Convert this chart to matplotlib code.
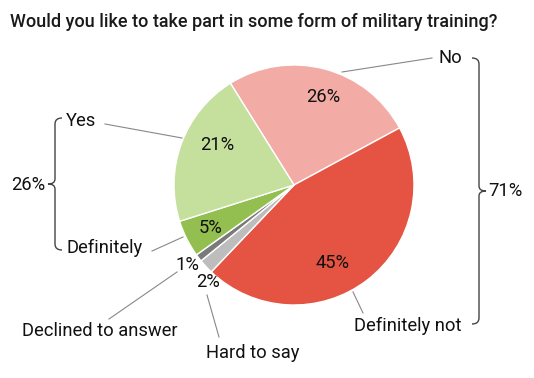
import matplotlib.pyplot as plt
from matplotlib.path import Path
from matplotlib.patches import PathPatch

plt.rcParams['font.family'] = ['Roboto', 'DejaVu Sans']

# -----------------------------
# Data
# -----------------------------
categories = ["No", "Definitely not", "Hard to say", "Declined to answer", "Definitely", "Yes"]
shares = [26, 45, 2, 1, 5, 21]
colors = ["#f2aca5", "#e55443", "#bdbdbd", "#7a7a7a", "#93bf50", "#c5df9d"]
group_labels = ["26%", "71%"]

W, H = 534, 378


def Y(y):
    # image pixel rows -> axes coords (y up)
    return H - y


fig = plt.figure(figsize=(W / 100, H / 100), dpi=100)
ax = fig.add_axes([0, 0, 1, 1])

cx, cy, r = 294, 185, 120
ax.pie(shares, colors=colors, startangle=122, counterclock=False,
       center=(cx, Y(cy)), radius=r, frame=True,
       wedgeprops=dict(edgecolor="white", linewidth=1))
ax.set_xlim(0, W)
ax.set_ylim(0, H)
ax.set_aspect("equal")
ax.axis("off")

fs = 13.2
fig.text(10 / W, 1 - 22 / H, "Would you like to take part in some form of military training?",
         fontsize=13, fontweight="medium", color="#1a1a1a", va="center", ha="left")

# percent labels inside / next to the slices
pct_pos = [(323, 97), (333, 263), (208, 282), (187, 265), (211, 228), (217, 145)]
for v, (px, py) in zip(shares, pct_pos):
    ax.text(px, Y(py), f"{v}%", fontsize=fs, ha="center", va="center", color="#111")

# category labels with leader lines
lab = {
    "No": ((439, 58), [(342, 72), (432, 58)]),
    "Definitely not": ((354, 326), [(353, 292), (363, 313)]),
    "Hard to say": ((206, 353), [(207, 295), (219, 337)]),
    "Declined to answer": ((22, 331), [(109, 319), (177, 272)]),
    "Definitely": ((67, 248), [(152, 251), (183, 237)]),
    "Yes": ((66, 121), [(105, 124), (182, 138)]),
}
for name in categories:
    (tx, ty), line = lab[name]
    ax.text(tx, Y(ty), name, fontsize=fs, ha="left", va="center", color="#111")
    ax.plot([line[0][0], line[1][0]], [Y(line[0][1]), Y(line[1][1])],
            color="#888888", linewidth=0.8)


def brace(x, ytop, ybot, side):
    # side=-1: tip points left, ends curl right; side=+1: mirror
    ymid = (ytop + ybot) / 2
    e = -side * 7
    t = side * 7
    verts = [
        (x + e, Y(ytop)), (x, Y(ytop)), (x, Y(ytop + 6)),
        (x, Y(ymid - 5)),
        (x, Y(ymid)), (x + t, Y(ymid)),
        (x, Y(ymid)), (x, Y(ymid + 5)),
        (x, Y(ybot - 6)),
        (x, Y(ybot)), (x + e, Y(ybot)),
    ]
    codes = [Path.MOVETO, Path.CURVE3, Path.CURVE3, Path.LINETO,
             Path.CURVE3, Path.CURVE3, Path.CURVE3, Path.CURVE3,
             Path.LINETO, Path.CURVE3, Path.CURVE3]
    ax.add_patch(PathPatch(Path(verts, codes), fill=False,
                           edgecolor="#444444", linewidth=1))


brace(55, 118, 250, -1)
brace(479, 58, 324, 1)
ax.text(45, Y(185), group_labels[0], fontsize=fs, ha="right", va="center", color="#111")
ax.text(488, Y(191), group_labels[1], fontsize=fs, ha="left", va="center", color="#111")

fig.savefig("out.png", dpi=100)
